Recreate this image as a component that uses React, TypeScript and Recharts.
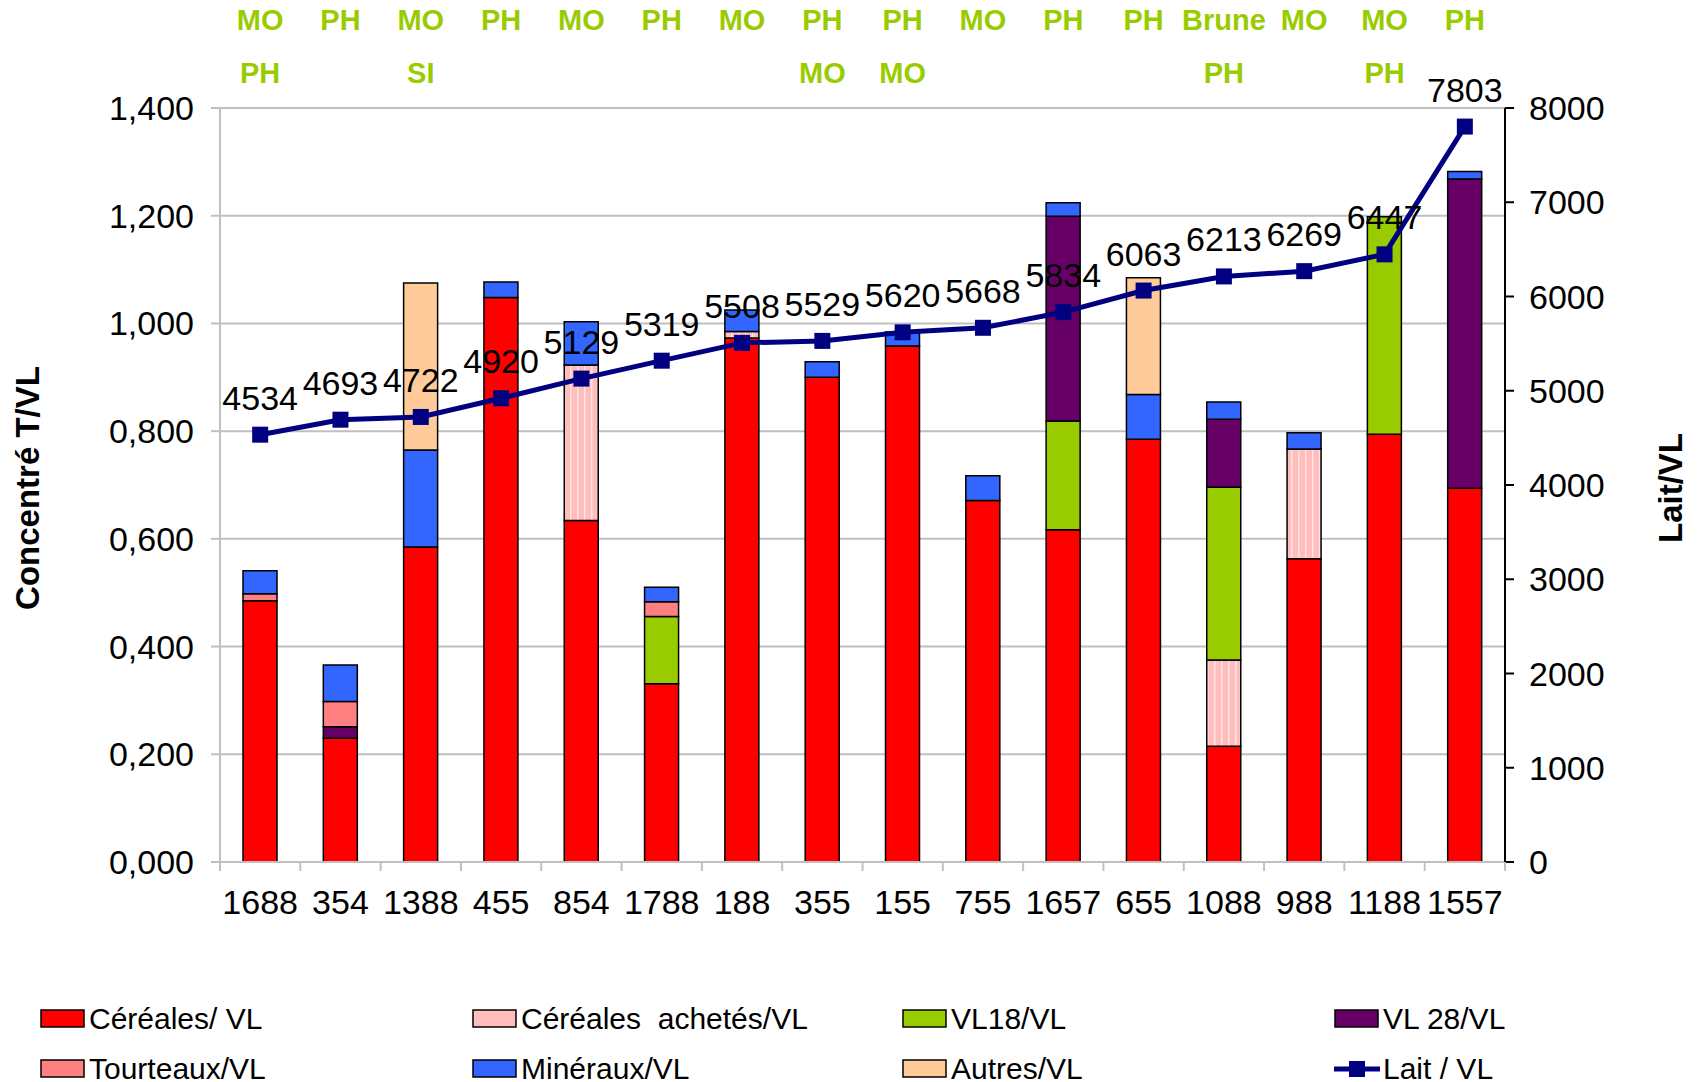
import { ComposedChart, Bar, Line, XAxis, YAxis, CartesianGrid, LabelList } from "recharts";

// farm codes along the x axis
const farms = ["1688", "354", "1388", "455", "854", "1788", "188", "355", "155", "755", "1657", "655", "1088", "988", "1188", "1557"];
// breed tags printed above the plot (two rows)
const tagsRow1 = ["MO", "PH", "MO", "PH", "MO", "PH", "MO", "PH", "PH", "MO", "PH", "PH", "Brune", "MO", "MO", "PH"];
const tagsRow2 = ["PH", "", "SI", "", "", "", "", "MO", "MO", "", "", "", "PH", "", "PH", ""];

// concentrate, T per cow
const cereales = [0.485, 0.230, 0.585, 1.048, 0.634, 0.331, 0.973, 0.900, 0.958, 0.671, 0.617, 0.785, 0.215, 0.563, 0.794, 0.694];
const cerealesAchetes = [0, 0, 0, 0, 0.289, 0, 0.012, 0, 0, 0, 0, 0, 0.160, 0.204, 0, 0];
const vl18 = [0, 0, 0, 0, 0, 0.125, 0, 0, 0, 0, 0.202, 0, 0.321, 0, 0.404, 0];
const vl28 = [0, 0.021, 0, 0, 0, 0, 0, 0, 0, 0, 0.380, 0, 0.126, 0, 0, 0.574];
const tourteaux = [0.013, 0.047, 0, 0, 0, 0.027, 0, 0, 0, 0, 0, 0, 0, 0, 0, 0];
const mineraux = [0.043, 0.068, 0.180, 0.029, 0.080, 0.027, 0.040, 0.029, 0.026, 0.046, 0.025, 0.083, 0.032, 0.030, 0, 0.014];
const autres = [0, 0, 0.310, 0, 0, 0, 0, 0, 0, 0, 0, 0.217, 0, 0, 0, 0];
// milk per cow
const lait = [4534, 4693, 4722, 4920, 5129, 5319, 5508, 5529, 5620, 5668, 5834, 6063, 6213, 6269, 6447, 7803];

const leftTicks = [0, 0.2, 0.4, 0.6, 0.8, 1.0, 1.2, 1.4];
const rightTicks = [0, 1000, 2000, 3000, 4000, 5000, 6000, 7000, 8000];

const FONT = "'Liberation Sans', Arial, sans-serif";
const GREEN = "#99CC00";
const GRID = "#c0c0c0";

const series = [
  { key: "cereales", label: "Céréales/ VL", fill: "#FF0000" },
  { key: "achetes", label: "Céréales  achetés/VL", fill: "url(#stripes)" },
  { key: "vl18", label: "VL18/VL", fill: "#99CC00" },
  { key: "vl28", label: "VL 28/VL", fill: "#660066" },
  { key: "tourteaux", label: "Tourteaux/VL", fill: "#FF8080" },
  { key: "mineraux", label: "Minéraux/VL", fill: "#3366FF" },
  { key: "autres", label: "Autres/VL", fill: "#FFCC99" },
];

const data = farms.map((farm, i) => ({
  farm,
  cereales: cereales[i],
  achetes: cerealesAchetes[i],
  vl18: vl18[i],
  vl28: vl28[i],
  tourteaux: tourteaux[i],
  mineraux: mineraux[i],
  autres: autres[i],
  lait: lait[i],
}));

// legend grid: row 1 then row 2
const legendCols = [40, 472, 902, 1334];
const legendRows = [1019, 1069];
const legendOrder = ["cereales", "achetes", "vl18", "vl28", "tourteaux", "mineraux", "autres", "lait"];

// category label plus the small marks at the category boundaries
function BottomTick({ x, y, payload, width, visibleTicksCount, index }: any) {
  const half = width / visibleTicksCount / 2;
  return (
    <g>
      <line x1={x - half} y1={y} x2={x - half} y2={y + 9} stroke={GRID} strokeWidth={2} />
      {index === visibleTicksCount - 1 && <line x1={x + half} y1={y} x2={x + half} y2={y + 9} stroke={GRID} strokeWidth={2} />}
      <text x={x} y={y + 52} textAnchor="middle" fontSize={34} fontFamily={FONT} fill="#000">
        {payload.value}
      </text>
    </g>
  );
}

function TopTick({ x, y, index }: any) {
  return (
    <g fontSize={29} fontFamily={FONT} fontWeight="bold" fill={GREEN} textAnchor="middle">
      <text x={x} y={y - 70}>{tagsRow1[index]}</text>
      <text x={x} y={y - 17}>{tagsRow2[index]}</text>
    </g>
  );
}

function SquareDot({ cx, cy }: any) {
  return <rect x={cx - 8} y={cy - 8} width={16} height={16} fill="#000080" />;
}

export default function App() {
  return (
    <div style={{ position: "absolute", left: 0, top: 0, width: 1700, height: 1082, background: "#fff", fontFamily: FONT }}>
      <ComposedChart width={1700} height={1082} data={data} margin={{ top: 107, right: 0, bottom: 160, left: 0 }}>
        <defs>
          <pattern id="stripes" width="7" height="10" patternUnits="userSpaceOnUse">
            <rect width="7" height="10" fill="#FFBDBD" />
            <rect x="3" width="1.5" height="10" fill="#FFE4E4" />
          </pattern>
        </defs>
        <CartesianGrid yAxisId="left" xAxisId="main" vertical={false} stroke={GRID} strokeWidth={2} />
        <XAxis
          xAxisId="main"
          dataKey="farm"
          height={60}
          axisLine={{ stroke: GRID, strokeWidth: 2 }}
          tickLine={false}
          tickSize={0}
          tickMargin={0}
          tick={<BottomTick />}
          interval={0}
        />
        <XAxis xAxisId="top" dataKey="farm" orientation="top" height={1} axisLine={false} tickLine={false} tick={<TopTick />} interval={0} />
        <YAxis
          yAxisId="left"
          width={220}
          domain={[0, 1.4]}
          ticks={leftTicks}
          interval={0}
          tickFormatter={(v: number) => v.toFixed(3).replace(".", ",")}
          axisLine={{ stroke: GRID, strokeWidth: 2 }}
          tickLine={{ stroke: GRID, strokeWidth: 2 }}
          tickSize={9}
          tickMargin={17}
          tick={{ fontSize: 34, fill: "#000", fontFamily: FONT }}
        />
        <YAxis
          yAxisId="right"
          orientation="right"
          width={195}
          domain={[0, 8000]}
          ticks={rightTicks}
          interval={0}
          axisLine={{ stroke: "#000", strokeWidth: 2 }}
          tickLine={{ stroke: "#000", strokeWidth: 2 }}
          tickSize={9}
          tickMargin={15}
          tick={{ fontSize: 34, fill: "#000", fontFamily: FONT }}
        />
        {series.map(s => (
          <Bar
            key={s.key}
            dataKey={s.key}
            name={s.label}
            stackId="conc"
            xAxisId="main"
            yAxisId="left"
            fill={s.fill}
            stroke="#000"
            strokeWidth={1.5}
            barSize={34}
            isAnimationActive={false}
          />
        ))}
        <Line
          dataKey="lait"
          name="Lait / VL"
          xAxisId="main"
          yAxisId="right"
          stroke="#000080"
          strokeWidth={5}
          dot={<SquareDot />}
          activeDot={false}
          isAnimationActive={false}
        >
          <LabelList dataKey="lait" position="top" offset={25} fontSize={34} fill="#000" fontFamily={FONT} />
        </Line>
        <text x={27} y={488} transform="rotate(-90 27 488)" textAnchor="middle" dominantBaseline="central" fontSize={33} fontWeight="bold" fontFamily={FONT}>
          Concentré T/VL
        </text>
        <text x={1670} y={488} transform="rotate(-90 1670 488)" textAnchor="middle" dominantBaseline="central" fontSize={33} fontWeight="bold" fontFamily={FONT}>
          Lait/VL
        </text>
      </ComposedChart>

      {legendOrder.map((key, i) => {
        const left = legendCols[i % 4];
        const top = legendRows[Math.floor(i / 4)];
        const s = series.find(d => d.key === key);
        return (
          <div key={key} style={{ position: "absolute", left, top: top - 20, height: 40, display: "flex", alignItems: "center", fontSize: 30, color: "#000", whiteSpace: "pre" }}>
            {s ? (
              <svg width={46} height={20} style={{ marginRight: 3 }}>
                <rect x={1} y={1} width={43} height={17} fill={s.fill === "url(#stripes)" ? "#FFBDBD" : s.fill} stroke="#000" strokeWidth={1.5} />
              </svg>
            ) : (
              <svg width={46} height={26} style={{ marginRight: 3 }}>
                <line x1={0} y1={13} x2={46} y2={13} stroke="#000080" strokeWidth={5} />
                <rect x={15} y={5} width={16} height={16} fill="#000080" />
              </svg>
            )}
            {s ? s.label : "Lait / VL"}
          </div>
        );
      })}
    </div>
  );
}
